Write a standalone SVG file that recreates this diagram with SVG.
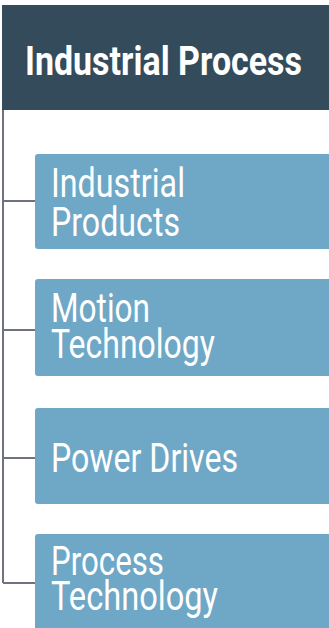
<svg xmlns="http://www.w3.org/2000/svg" width="329" height="628" viewBox="0 0 329 628">
  <style>
    .hdr { fill: #344b5b; }
    .box { fill: #6ea8c6; }
    .conn { stroke: #70737d; stroke-width: 2; fill: none; }
    .t { font-family: Roboto, "Liberation Sans", sans-serif; fill: #ffffff; font-size: 40px; }
    .th { font-weight: bold; }
  </style>
  <rect width="329" height="628" fill="#ffffff"/>
  <g id="connectors">
    <path class="conn" d="M3,110 V583"/>
    <path class="conn" d="M3,201 H36"/>
    <path class="conn" d="M3,330 H36"/>
    <path class="conn" d="M3,458 H36"/>
    <path class="conn" d="M3,583 H36"/>
  </g>
  <g id="industrial-process">
    <rect class="hdr" x="2" y="5" width="330" height="105"/>
    <text class="t th" x="25" y="75" textLength="277" lengthAdjust="spacingAndGlyphs">Industrial Process</text>
  </g>
  <g id="industrial-products">
    <rect class="box" x="35" y="154" width="300" height="95" rx="3"/>
    <text class="t" x="51" y="197" textLength="134" lengthAdjust="spacingAndGlyphs">Industrial</text>
    <text class="t" x="51" y="236" textLength="129" lengthAdjust="spacingAndGlyphs">Products</text>
  </g>
  <g id="motion-technology">
    <rect class="box" x="35" y="279" width="300" height="97" rx="3"/>
    <text class="t" x="51" y="322" textLength="99" lengthAdjust="spacingAndGlyphs">Motion</text>
    <text class="t" x="51" y="358" textLength="164" lengthAdjust="spacingAndGlyphs">Technology</text>
  </g>
  <g id="power-drives">
    <rect class="box" x="35" y="408" width="300" height="96" rx="3"/>
    <text class="t" x="51" y="472" textLength="187" lengthAdjust="spacingAndGlyphs">Power Drives</text>
  </g>
  <g id="process-technology">
    <rect class="box" x="35" y="534" width="300" height="110" rx="3"/>
    <text class="t" x="51" y="575" textLength="113" lengthAdjust="spacingAndGlyphs">Process</text>
    <text class="t" x="51" y="610" textLength="167" lengthAdjust="spacingAndGlyphs">Technology</text>
  </g>
</svg>
